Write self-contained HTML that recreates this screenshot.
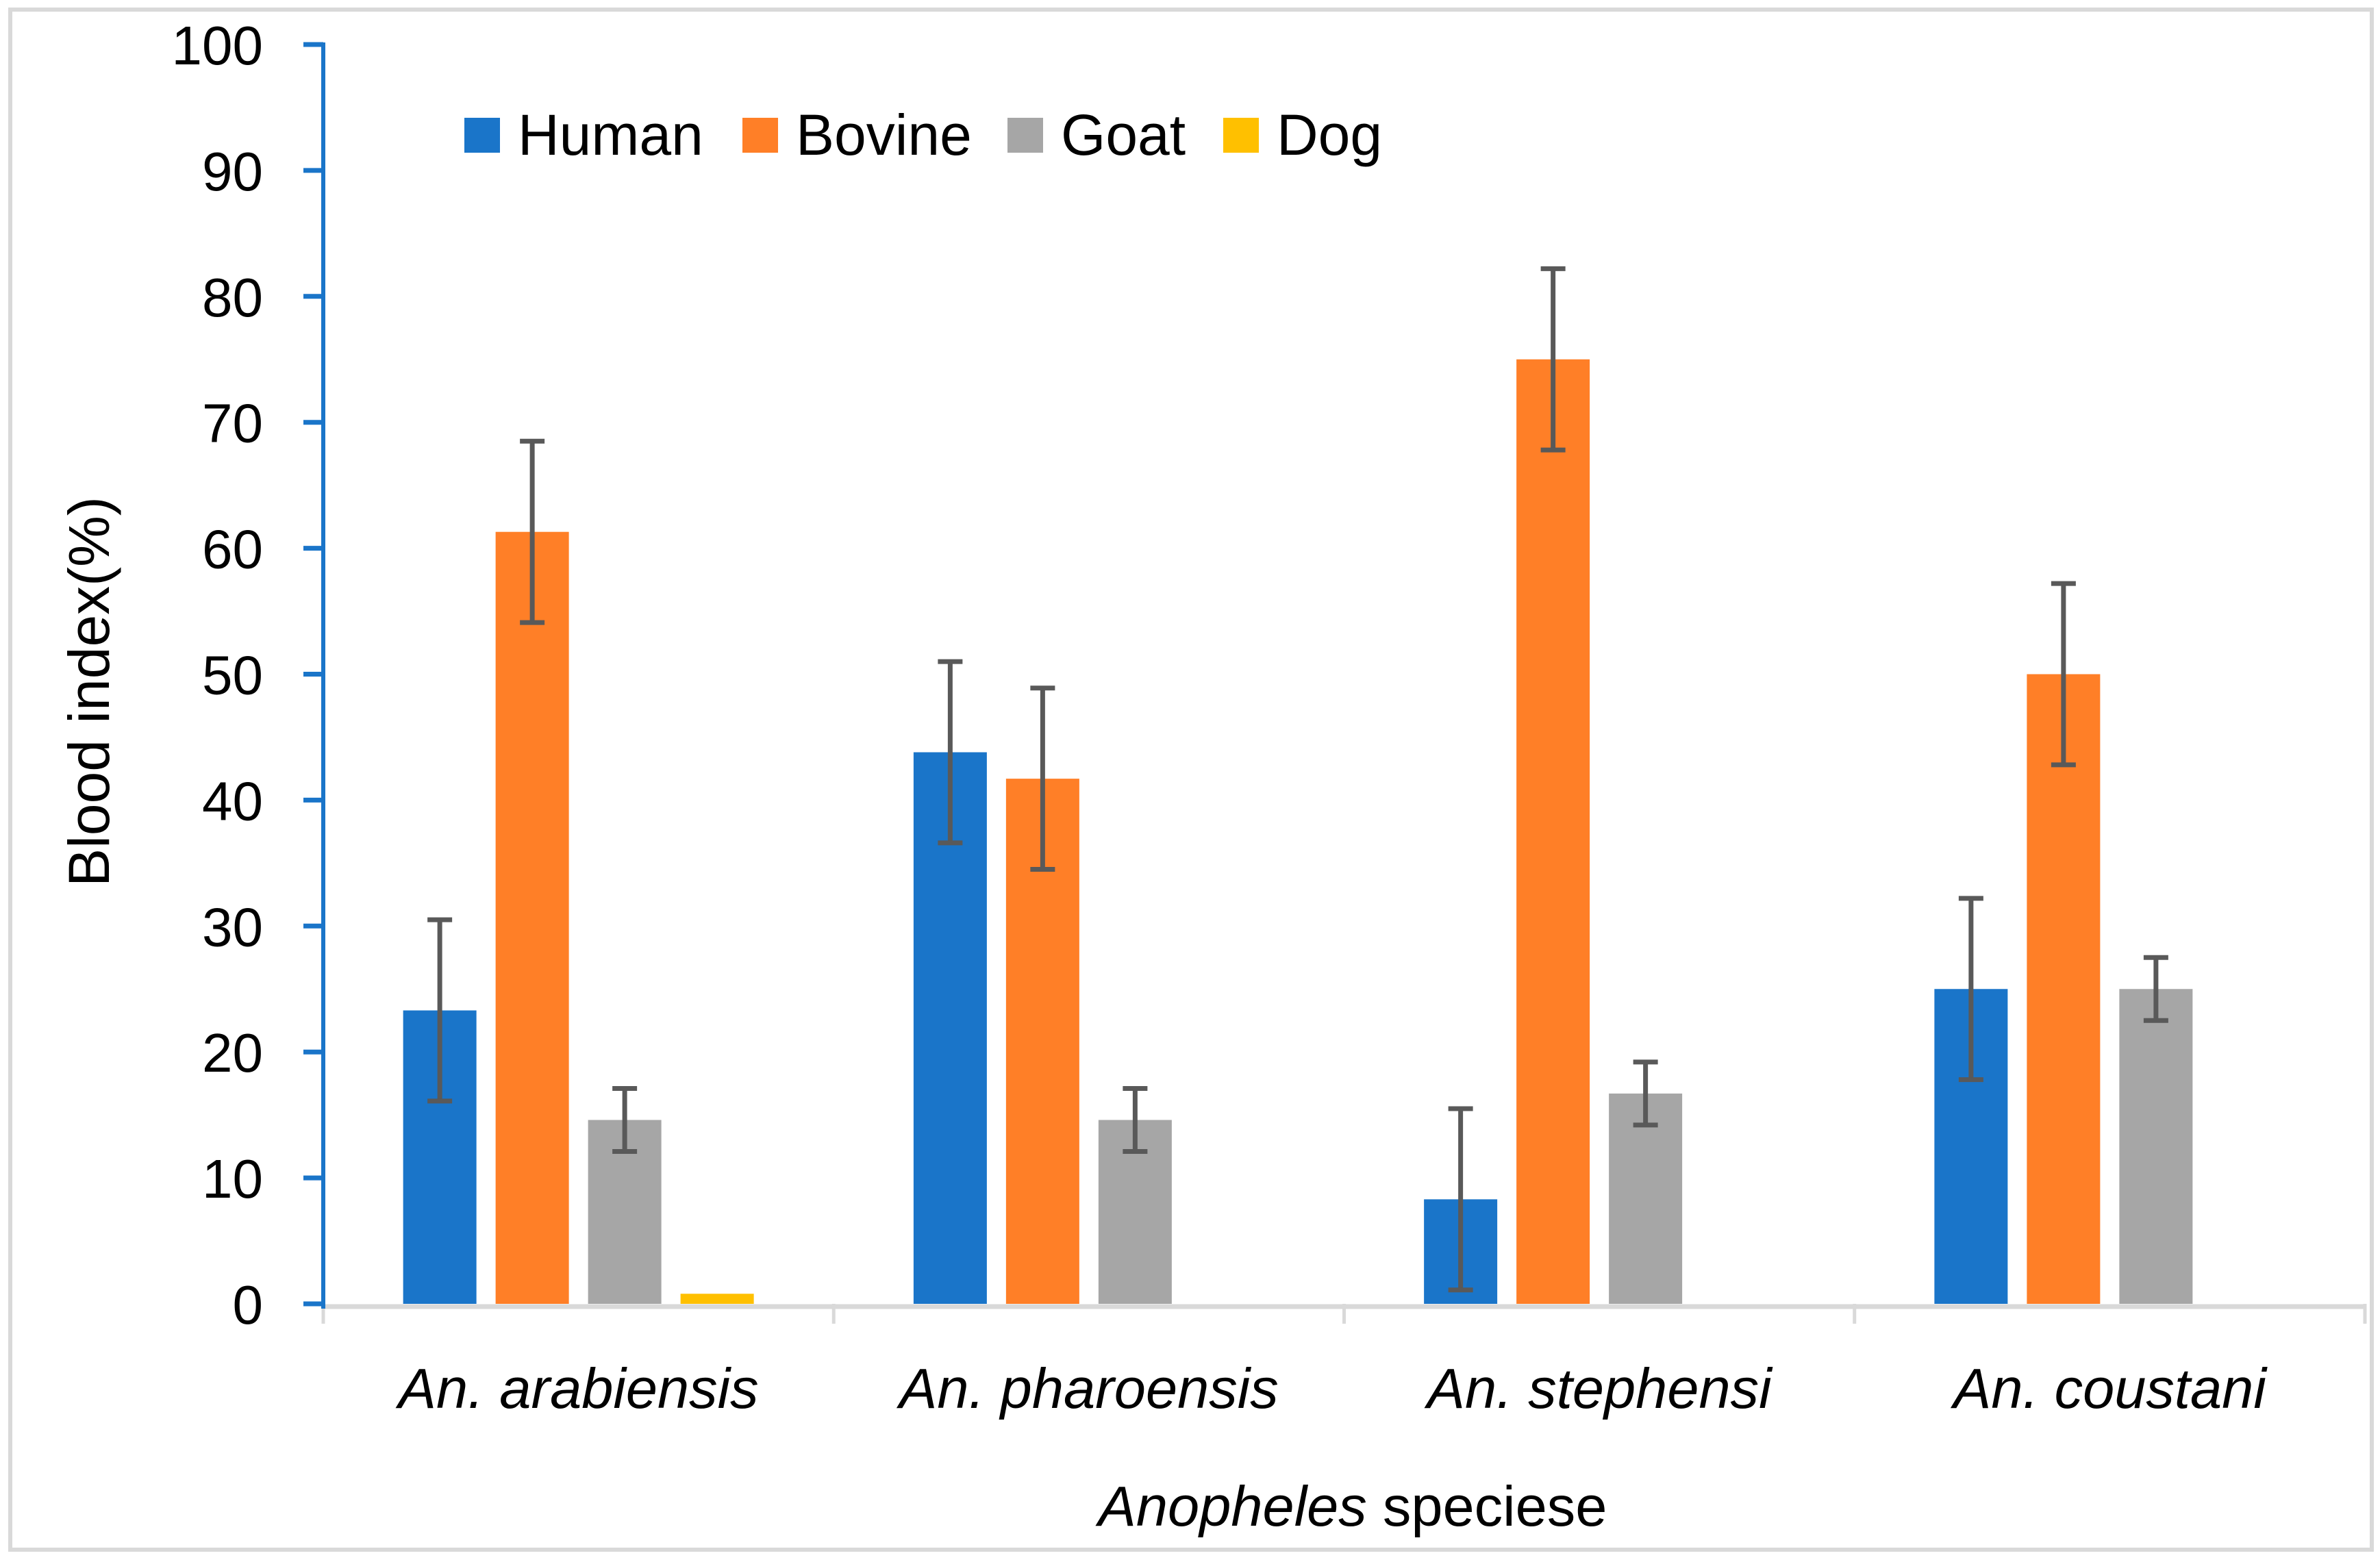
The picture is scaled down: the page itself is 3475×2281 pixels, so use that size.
<!DOCTYPE html>
<html><head><meta charset="utf-8"><style>
html,body{margin:0;padding:0;background:#fff;}
svg{display:block;font-family:"Liberation Sans",sans-serif;}
</style></head><body>
<svg id="chart" width="3475" height="2281" viewBox="0 0 3475 2281" xmlns="http://www.w3.org/2000/svg">
<rect x="15" y="14" width="3448" height="2249" fill="#fff" stroke="#d9d9d9" stroke-width="6"/>
<text transform="translate(159,1010) rotate(-90)" text-anchor="middle" font-size="84" fill="#000">Blood index(%)</text>
<text x="1975" y="2228" text-anchor="middle" font-size="83" fill="#000"><tspan font-style="italic">Anopheles</tspan> speciese</text>
<g id="legend"></g>
<g id="plot"></g>
</svg>
<script>
const categories = ["An. arabiensis","An. pharoensis","An. stephensi","An. coustani"];
const seriesNames = ["Human","Bovine","Goat","Dog"];
const humanVals = [23.3, 43.8, 8.3, 25];
const bovineVals = [61.3, 41.7, 75, 50];
const goatVals = [14.6, 14.6, 16.7, 25];
const dogVals = [0.8, 0, 0, 0];
const humanErr = [7.2, 7.2, 7.2, 7.2];
const bovineErr = [7.2, 7.2, 7.2, 7.2];
const goatErr = [2.5, 2.5, 2.5, 2.5];
const yTicks = [0,10,20,30,40,50,60,70,80,90,100];
const colors = ["#1a75c9","#ff7f27","#a6a6a6","#ffc000"];

const NS="http://www.w3.org/2000/svg";
const X0=472, X1=3453, Y0=1904, Y100=65;
function y(v){return Y0-(v/100)*(Y0-Y100);}
const catW=(X1-X0)/categories.length;
function catX(i){return X0+catW*i;}
function mk(tag,attrs,parent){const e=document.createElementNS(NS,tag);for(const k in attrs)e.setAttribute(k,attrs[k]);parent.appendChild(e);return e;}
const plot=document.getElementById('plot');
const legend=document.getElementById('legend');

let bl=mk('line',{x1:X0,y1:Y0+4,x2:X1,y2:Y0+4,stroke:'#d9d9d9','stroke-width':7},plot);


for(let i=0;i<=categories.length;i++){
  const t=mk('line',{x1:catX(i),y1:Y0,x2:catX(i),y2:1933,stroke:'#d9d9d9','stroke-width':5},plot);
  
  
}
let ya=mk('line',{x1:X0,y1:Y100-3,x2:X0,y2:Y0+7,stroke:'#1a75c9','stroke-width':6},plot);


yTicks.forEach(v=>{
  const t=mk('line',{x1:443,y1:y(v),x2:X0,y2:y(v),stroke:'#1a75c9','stroke-width':7},plot);
  
  
  const l=mk('text',{x:384,y:y(v)+29,'text-anchor':'end','font-size':80,fill:'#000'},plot);
  l.textContent=v;
  
  
});
const allVals=[humanVals,bovineVals,goatVals,dogVals];
const allErr=[humanErr,bovineErr,goatErr,null];
const barW=107, step=135, groupW=3*step+barW;
categories.forEach((c,i)=>{
  const cx=catX(i)+catW/2;
  const left=cx-groupW/2;
  allVals.forEach((vals,s)=>{
    const v=vals[i];
    const bx=left+s*step;
    if(v>0){
      const r=mk('rect',{x:bx,y:y(v),width:barW,height:Y0-y(v),fill:colors[s]},plot);
      
      
    }
    if(allErr[s] && v>0){
      const e=allErr[s][i], mx=bx+barW/2;
      const g=mk('g',{stroke:'#595959','stroke-width':7},plot);
      
      
      mk('line',{x1:mx,y1:y(v+e),x2:mx,y2:y(v-e)},g);
      mk('line',{x1:mx-18,y1:y(v+e),x2:mx+18,y2:y(v+e)},g);
      mk('line',{x1:mx-18,y1:y(v-e),x2:mx+18,y2:y(v-e)},g);
    }
  });
  const t=mk('text',{x:cx,y:2056,'text-anchor':'middle','font-size':83,'font-style':'italic',fill:'#000'},plot);
  t.textContent=c;
  
  
});
const legX=[678,1084,1471,1786];
seriesNames.forEach((n,s)=>{
  const g=mk('g',{},legend);
  
  
  mk('rect',{x:legX[s],y:172,width:52,height:51,fill:colors[s]},g);
  const t=mk('text',{x:legX[s]+78,y:226,'font-size':84,fill:'#000'},g);
  t.textContent=n;
});
</script>
</body></html>
